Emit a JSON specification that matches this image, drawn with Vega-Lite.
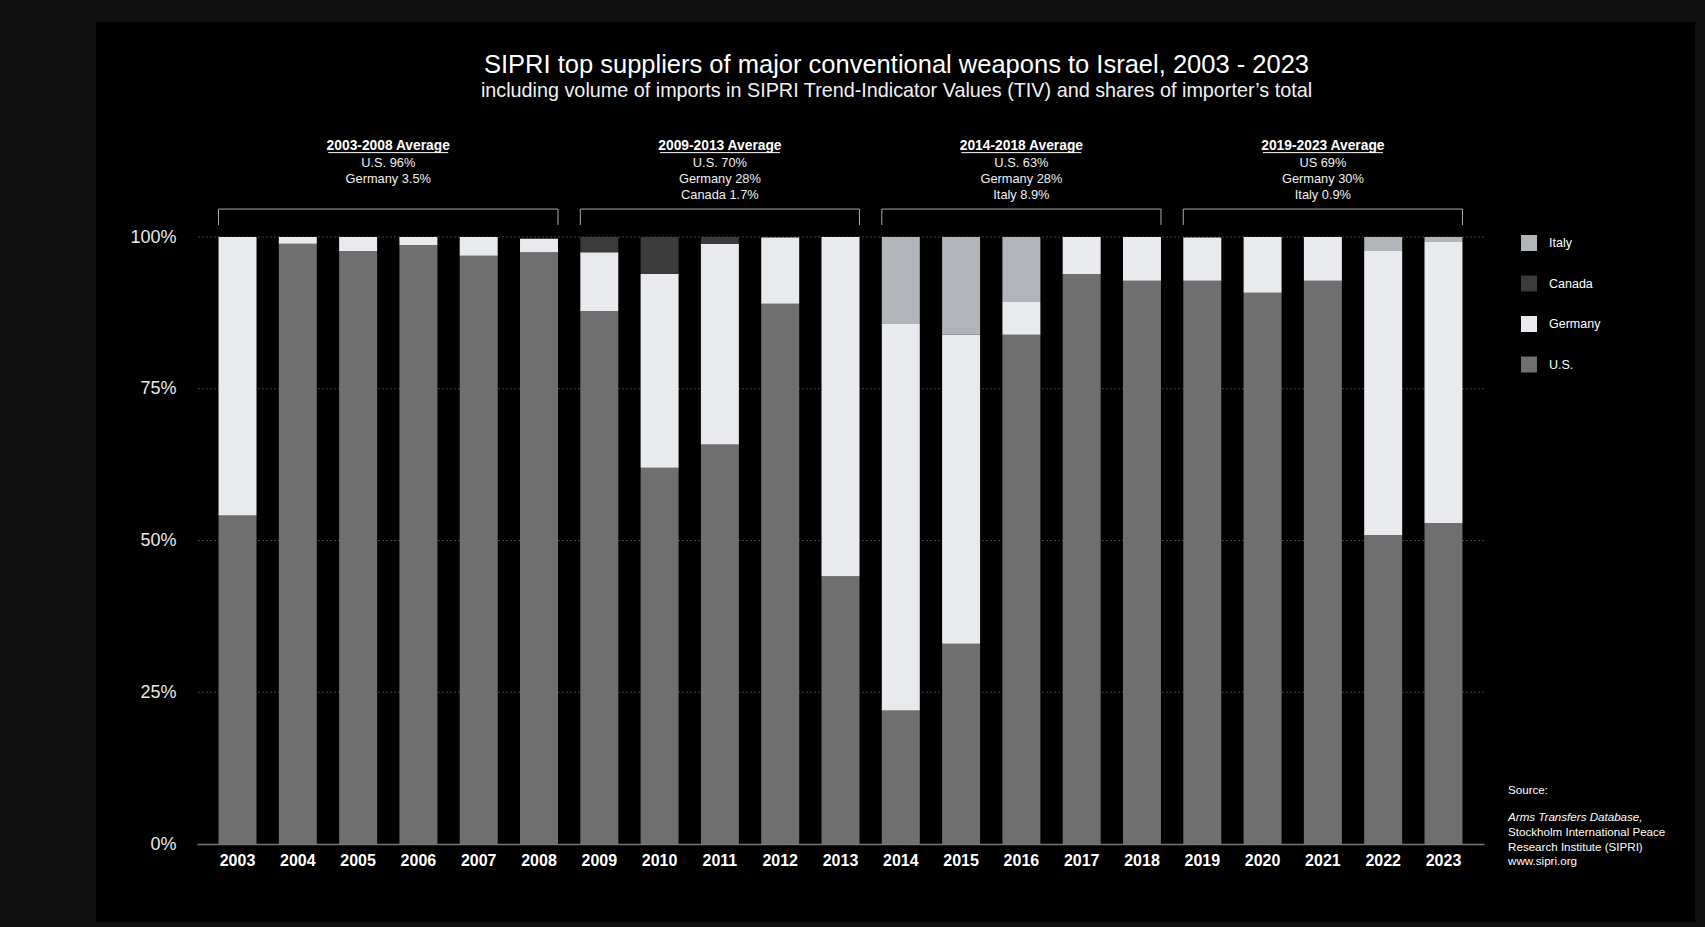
{
  "$schema": "https://vega.github.io/schema/vega-lite/v6.json",
  "width": 1287,
  "height": 607,
  "autosize": {"type": "none"},
  "padding": {"left": 197, "top": 237, "right": 221, "bottom": 83},
  "background": "#111111",
  "title": {
    "text": "SIPRI top suppliers of major conventional weapons to Israel, 2003 - 2023",
    "subtitle": "including volume of imports in SIPRI Trend-Indicator Values (TIV) and  shares of importer’s total",
    "anchor": "middle",
    "frame": "group",
    "dx": 56,
    "offset": -79,
    "fontSize": 25.5,
    "fontWeight": "normal",
    "color": "#ffffff",
    "subtitleFontSize": 19.8,
    "subtitleColor": "#f2f2f2",
    "subtitlePadding": 3,
    "zindex": 1
  },
  "config": {
    "font": "Liberation Sans",
    "view": {"stroke": null}
  },
  "datasets": {
    "shares": [
      {"year": "2003", "supplier": "U.S.", "share": 0.541}, {"year": "2003", "supplier": "Germany", "share": 0.459},
      {"year": "2004", "supplier": "U.S.", "share": 0.989}, {"year": "2004", "supplier": "Germany", "share": 0.011},
      {"year": "2005", "supplier": "U.S.", "share": 0.977}, {"year": "2005", "supplier": "Germany", "share": 0.023},
      {"year": "2006", "supplier": "U.S.", "share": 0.987}, {"year": "2006", "supplier": "Germany", "share": 0.013},
      {"year": "2007", "supplier": "U.S.", "share": 0.969}, {"year": "2007", "supplier": "Germany", "share": 0.031},
      {"year": "2008", "supplier": "U.S.", "share": 0.975}, {"year": "2008", "supplier": "Germany", "share": 0.022},
      {"year": "2009", "supplier": "U.S.", "share": 0.878}, {"year": "2009", "supplier": "Germany", "share": 0.097}, {"year": "2009", "supplier": "Canada", "share": 0.025},
      {"year": "2010", "supplier": "U.S.", "share": 0.620}, {"year": "2010", "supplier": "Germany", "share": 0.319}, {"year": "2010", "supplier": "Canada", "share": 0.061},
      {"year": "2011", "supplier": "U.S.", "share": 0.658}, {"year": "2011", "supplier": "Germany", "share": 0.331}, {"year": "2011", "supplier": "Canada", "share": 0.011},
      {"year": "2012", "supplier": "U.S.", "share": 0.890}, {"year": "2012", "supplier": "Germany", "share": 0.109},
      {"year": "2013", "supplier": "U.S.", "share": 0.441}, {"year": "2013", "supplier": "Germany", "share": 0.559},
      {"year": "2014", "supplier": "U.S.", "share": 0.220}, {"year": "2014", "supplier": "Germany", "share": 0.638}, {"year": "2014", "supplier": "Italy", "share": 0.142},
      {"year": "2015", "supplier": "U.S.", "share": 0.330}, {"year": "2015", "supplier": "Germany", "share": 0.509}, {"year": "2015", "supplier": "Italy", "share": 0.161},
      {"year": "2016", "supplier": "U.S.", "share": 0.839}, {"year": "2016", "supplier": "Germany", "share": 0.054}, {"year": "2016", "supplier": "Italy", "share": 0.107},
      {"year": "2017", "supplier": "U.S.", "share": 0.939}, {"year": "2017", "supplier": "Germany", "share": 0.061},
      {"year": "2018", "supplier": "U.S.", "share": 0.928}, {"year": "2018", "supplier": "Germany", "share": 0.072},
      {"year": "2019", "supplier": "U.S.", "share": 0.928}, {"year": "2019", "supplier": "Germany", "share": 0.071},
      {"year": "2020", "supplier": "U.S.", "share": 0.908}, {"year": "2020", "supplier": "Germany", "share": 0.092},
      {"year": "2021", "supplier": "U.S.", "share": 0.928}, {"year": "2021", "supplier": "Germany", "share": 0.072},
      {"year": "2022", "supplier": "U.S.", "share": 0.509}, {"year": "2022", "supplier": "Germany", "share": 0.468}, {"year": "2022", "supplier": "Italy", "share": 0.023},
      {"year": "2023", "supplier": "U.S.", "share": 0.529}, {"year": "2023", "supplier": "Germany", "share": 0.464}, {"year": "2023", "supplier": "Italy", "share": 0.007}
    ],
    "groups": [
      {"group": "2003-2008 Average", "start": "2003", "end": "2008", "mid": "2005", "bars": 6, "lines": ["U.S. 96%", "Germany 3.5%"]},
      {"group": "2009-2013 Average", "start": "2009", "end": "2013", "mid": "2011", "bars": 5, "lines": ["U.S. 70%", "Germany 28%", "Canada 1.7%"]},
      {"group": "2014-2018 Average", "start": "2014", "end": "2018", "mid": "2016", "bars": 5, "lines": ["U.S. 63%", "Germany 28%", "Italy 8.9%"]},
      {"group": "2019-2023 Average", "start": "2019", "end": "2023", "mid": "2021", "bars": 5, "lines": ["US 69%", "Germany 30%", "Italy 0.9%"]}
    ],
    "gridlines": [
      {"level": 0.25}, {"level": 0.5}, {"level": 0.75}, {"level": 1}
    ],
    "notes": [
      {"part": "heading", "text": "Source:"},
      {"part": "database", "text": "Arms Transfers Database,"},
      {"part": "institute", "text": ["Stockholm International Peace", "Research Institute (SIPRI)", "www.sipri.org"]}
    ]
  },
  "layer": [
    {
      "data": {"name": "notes"},
      "transform": [{"filter": "datum.part == 'heading'"}],
      "mark": {"type": "rect", "color": "#000000"},
      "encoding": {
        "x": {"datum": "2003", "type": "ordinal", "bandPosition": -3.224},
        "x2": {"datum": "2023", "bandPosition": 7.13},
        "y": {"datum": 1.354, "type": "quantitative"},
        "y2": {"datum": -0.1285}
      }
    },
    {
      "data": {"name": "gridlines"},
      "mark": {"type": "rule", "color": "#444444", "strokeWidth": 1, "strokeDash": [2, 2]},
      "encoding": {
        "y": {"field": "level", "type": "quantitative"}
      }
    },
    {
      "data": {"name": "shares"},
      "transform": [
        {"calculate": "indexof(['U.S.','Germany','Canada','Italy'], datum.supplier)", "as": "stackOrder"}
      ],
      "mark": {"type": "bar"},
      "encoding": {
        "x": {
          "field": "year", "type": "ordinal",
          "scale": {"paddingInner": 0.37, "paddingOuter": 0.357},
          "axis": {
            "title": null, "labelAngle": 0, "ticks": false, "domain": true, "zindex": 1,
            "bandPosition": 0.5, "labelAlign": "center", "labelBaseline": "top",
            "domainColor": "#777777", "domainWidth": 1.5,
            "labelFontSize": 16, "labelFontWeight": "bold", "labelColor": "#ffffff", "labelPadding": 8
          }
        },
        "y": {
          "field": "share", "type": "quantitative", "stack": "zero",
          "scale": {"domain": [0, 1], "nice": false},
          "axis": {
            "title": null, "values": [0, 0.25, 0.5, 0.75, 1], "format": ".0%", "grid": false, "zindex": 1,
            "domain": false, "ticks": false, "labelFontSize": 18, "labelPadding": 21,
            "labelColor": "#e8e8e8"
          }
        },
        "color": {
          "field": "supplier", "type": "nominal",
          "scale": {"domain": ["Italy", "Canada", "Germany", "U.S."], "range": ["#b1b5ba", "#3b3b3b", "#e8eaed", "#6f6f6f"]},
          "legend": {
            "title": null, "orient": "none", "legendX": 1324, "legendY": -2, "zindex": 1,
            "direction": "vertical", "symbolType": "square", "symbolSize": 256,
            "symbolStrokeWidth": 0, "symbolOpacity": 1, "labelColor": "#ffffff",
            "labelFontSize": 12.5, "labelOffset": 12, "rowPadding": 24.5
          }
        },
        "order": {"field": "stackOrder", "type": "quantitative", "sort": "ascending"}
      }
    },
    {
      "data": {"name": "groups"},
      "mark": {"type": "rule", "color": "#aaaaaa", "strokeWidth": 1},
      "encoding": {
        "x": {"field": "start", "type": "ordinal", "bandPosition": 0},
        "x2": {"field": "end", "bandPosition": 1},
        "y": {"datum": 1.046, "type": "quantitative"}
      }
    },
    {
      "data": {"name": "groups"},
      "mark": {"type": "rule", "color": "#aaaaaa", "strokeWidth": 1},
      "encoding": {
        "x": {"field": "start", "type": "ordinal", "bandPosition": 0},
        "y": {"datum": 1.046, "type": "quantitative"},
        "y2": {"datum": 1.0198}
      }
    },
    {
      "data": {"name": "groups"},
      "mark": {"type": "rule", "color": "#aaaaaa", "strokeWidth": 1},
      "encoding": {
        "x": {"field": "end", "type": "ordinal", "bandPosition": 1},
        "y": {"datum": 1.046, "type": "quantitative"},
        "y2": {"datum": 1.0198}
      }
    },
    {
      "data": {"name": "groups"},
      "transform": [{"filter": "datum.bars == 6"}],
      "layer": [
        {
          "mark": {"type": "text", "fontSize": 13.8, "fontWeight": "bold", "color": "#ffffff", "baseline": "middle", "align": "center"},
          "encoding": {
            "x": {"field": "mid", "type": "ordinal", "bandPosition": 1.293},
            "y": {"datum": 1.150, "type": "quantitative"},
            "text": {"field": "group"}
          }
        },
        {
          "mark": {"type": "rule", "color": "#ffffff", "strokeWidth": 1, "xOffset": -60, "x2Offset": 60},
          "encoding": {
            "x": {"field": "mid", "type": "ordinal", "bandPosition": 1.293},
            "x2": {"field": "mid", "bandPosition": 1.293},
            "y": {"datum": 1.139, "type": "quantitative"}
          }
        },
        {
          "mark": {"type": "text", "fontSize": 12.8, "color": "#f0f0f0", "baseline": "top", "align": "center", "lineHeight": 16.3},
          "encoding": {
            "x": {"field": "mid", "type": "ordinal", "bandPosition": 1.293},
            "y": {"datum": 1.1324, "type": "quantitative"},
            "text": {"field": "lines"}
          }
        }
      ]
    },
    {
      "data": {"name": "groups"},
      "transform": [{"filter": "datum.bars == 5"}],
      "layer": [
        {
          "mark": {"type": "text", "fontSize": 13.8, "fontWeight": "bold", "color": "#ffffff", "baseline": "middle", "align": "center"},
          "encoding": {
            "x": {"field": "mid", "type": "ordinal", "bandPosition": 0.5},
            "y": {"datum": 1.150, "type": "quantitative"},
            "text": {"field": "group"}
          }
        },
        {
          "mark": {"type": "rule", "color": "#ffffff", "strokeWidth": 1, "xOffset": -60, "x2Offset": 60},
          "encoding": {
            "x": {"field": "mid", "type": "ordinal", "bandPosition": 0.5},
            "x2": {"field": "mid", "bandPosition": 0.5},
            "y": {"datum": 1.139, "type": "quantitative"}
          }
        },
        {
          "mark": {"type": "text", "fontSize": 12.8, "color": "#f0f0f0", "baseline": "top", "align": "center", "lineHeight": 16.3},
          "encoding": {
            "x": {"field": "mid", "type": "ordinal", "bandPosition": 0.5},
            "y": {"datum": 1.1324, "type": "quantitative"},
            "text": {"field": "lines"}
          }
        }
      ]
    },
    {
      "data": {"name": "notes"},
      "transform": [{"filter": "datum.part == 'heading'"}],
      "mark": {"type": "text", "fontSize": 11.6, "color": "#ffffff", "align": "left", "baseline": "middle"},
      "encoding": {
        "x": {"datum": "2023", "type": "ordinal", "bandPosition": 2.2},
        "y": {"datum": 0.0873, "type": "quantitative"},
        "text": {"field": "text"}
      }
    },
    {
      "data": {"name": "notes"},
      "transform": [{"filter": "datum.part == 'database'"}],
      "mark": {"type": "text", "fontSize": 11.6, "fontStyle": "italic", "color": "#ffffff", "align": "left", "baseline": "middle"},
      "encoding": {
        "x": {"datum": "2023", "type": "ordinal", "bandPosition": 2.2},
        "y": {"datum": 0.0428, "type": "quantitative"},
        "text": {"field": "text"}
      }
    },
    {
      "data": {"name": "notes"},
      "transform": [{"filter": "datum.part == 'institute'"}],
      "mark": {"type": "text", "fontSize": 11.6, "color": "#ffffff", "align": "left", "baseline": "top", "lineHeight": 14.3},
      "encoding": {
        "x": {"datum": "2023", "type": "ordinal", "bandPosition": 2.2},
        "y": {"datum": 0.0275, "type": "quantitative"},
        "text": {"field": "text"}
      }
    }
  ]
}
